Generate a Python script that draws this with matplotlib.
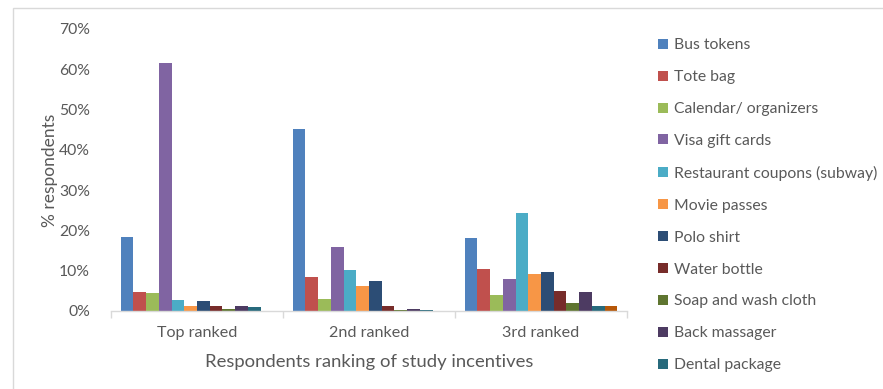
import matplotlib
matplotlib.use("Agg")
import matplotlib.pyplot as plt
import numpy as np
from matplotlib.patches import Rectangle
from matplotlib.ticker import FuncFormatter, FixedLocator

plt.rcParams['font.family'] = ['Lato', 'DejaVu Sans']

groups = ["Top ranked", "2nd ranked", "3rd ranked"]
incentives = ["Bus tokens", "Tote bag", "Calendar/ organizers", "Visa gift cards",
              "Restaurant coupons (subway)", "Movie passes", "Polo shirt",
              "Water bottle", "Soap and wash cloth", "Back massager",
              "Dental package", "Other"]

# percent of respondents, one list per incentive: [top, 2nd, 3rd]
bus_tokens = [18.4, 45.3, 18.0]
tote_bag = [4.8, 8.5, 10.4]
calendar = [4.4, 3.1, 4.0]
visa_cards = [61.6, 15.8, 7.9]
restaurant = [2.7, 10.3, 24.4]
movie = [1.2, 6.2, 9.1]
polo = [2.5, 7.5, 9.8]
water = [1.2, 1.2, 5.0]
soap = [0.6, 0.3, 2.1]
massager = [1.2, 0.6, 4.6]
dental = [0.9, 0.3, 1.2]
other = [0.0, 0.0, 1.2]

series = [bus_tokens, tote_bag, calendar, visa_cards, restaurant, movie,
          polo, water, soap, massager, dental, other]
colors = ["#4F81BD", "#C0504D", "#9BBB59", "#8064A2", "#4BACC6", "#F79646",
          "#2C4D75", "#772C2A", "#5F7530", "#4D3B62", "#276A7C", "#B65708"]

text_color = "#595959"
W, H = 883, 389
fig = plt.figure(figsize=(W / 100, H / 100), dpi=100)
fig.patch.set_facecolor("white")

# chart frame (top and left edges visible)
fig.add_artist(Rectangle((13 / W, -0.2), 1.5, 1.2 - 8 / H, transform=fig.transFigure,
                         fill=False, edgecolor="#D9D9D9", linewidth=1.0))

ax = fig.add_axes([111 / W, (H - 311) / H, 516 / W, 282 / H])

n = len(series)
group_gap = 0.113
bw = (1 - group_gap) / n
x = np.arange(len(groups))
for i, (vals, c, name) in enumerate(zip(series, colors, incentives)):
    offs = -0.5 + group_gap / 2 + bw * (i + 0.5)
    lab = name if name != "Other" else "_nolegend_"
    ax.bar(x + offs, vals, width=bw, color=c, label=lab, linewidth=0)

ax.set_xlim(-0.5, 2.5)
ax.set_ylim(0, 70)
ax.set_yticks(np.arange(0, 71, 10))
ax.yaxis.set_major_formatter(FuncFormatter(lambda v, p: f"{int(v)}%"))
ax.set_xticks(x)
ax.set_xticklabels(groups)
ax.xaxis.set_minor_locator(FixedLocator([-0.5, 0.5, 1.5, 2.5]))
ax.tick_params(axis="x", which="major", length=0, pad=11, labelsize=11.6, labelcolor=text_color)
ax.tick_params(axis="x", which="minor", length=5, color="#D9D9D9", width=1)
ax.tick_params(axis="y", length=0, pad=15, labelsize=11.3, labelcolor=text_color)

for s in ["top", "right", "left"]:
    ax.spines[s].set_visible(False)
ax.spines["bottom"].set_color("#D9D9D9")
ax.spines["bottom"].set_linewidth(1)

ax.set_ylabel("% respondents", fontsize=12.5, color=text_color, labelpad=1)
ax.set_xlabel("Respondents ranking of study incentives", fontsize=13.3, color=text_color, labelpad=10)

leg = ax.legend(loc="upper left", bbox_to_anchor=(652 / W, 1 - 32 / H),
                bbox_transform=fig.transFigure, frameon=False, fontsize=11.3,
                handlelength=0.6, handleheight=0.6, handletextpad=0.4,
                labelspacing=1.14, borderaxespad=0)
for t in leg.get_texts():
    t.set_color(text_color)

fig.savefig("out.png", dpi=100)
